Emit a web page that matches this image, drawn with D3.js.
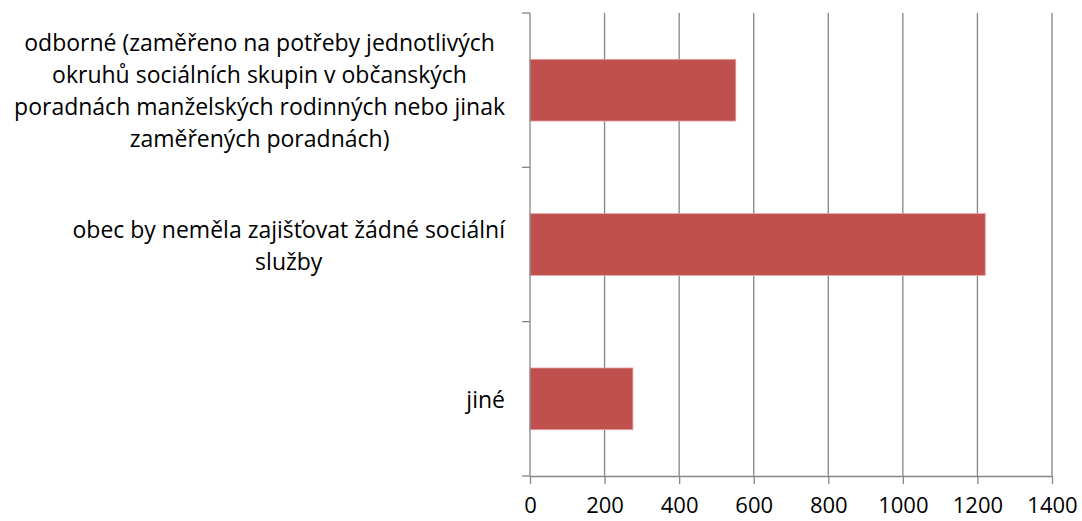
<!DOCTYPE html>
<html lang="cs">
<head>
    <meta charset="UTF-8">
    <title>Sociální služby</title>

    <!-- Load d3.js -->
    <script src="https://d3js.org/d3.v7.min.js"></script>

    <style>
        body { margin: 0; background: #fff; }
        text { font-family: "Open Sans", "Noto Sans", sans-serif; fill: #000; }
    </style>
</head>
<body>

    <div id="chart"></div>

    <script>

        // Data
        var categories = [
            ["odborné (zaměřeno na potřeby jednotlivých", "okruhů sociálních skupin v občanských", "poradnách manželských rodinných nebo jinak", "zaměřených poradnách)"],
            ["obec by neměla zajišťovat žádné sociální", "služby"],
            ["jiné"]
        ];
        var values = [552, 1221, 276];
        var x_ticks = [0, 200, 400, 600, 800, 1000, 1200, 1400];

        var width = 1082,
            height = 521;
        var plot = {left: 530, right: 1052, top: 13, bottom: 476};
        var font_size = 23,
            tick_font_size = 22,
            line_height = 32,
            label_right = 505;

        var svg = d3.select("#chart")
            .append("svg")
                .attr("width", width)
                .attr("height", height);

        // X scale
        var x = d3.scaleLinear()
            .domain([0, 1400])
            .range([plot.left, plot.right]);

        // Y scale (one band per category)
        var idx = categories.map(function(d, i) { return i; });
        var y = d3.scaleBand()
            .domain(idx)
            .range([plot.top, plot.bottom])
            .paddingInner(0.6)
            .paddingOuter(0.3);

        // Vertical gridlines
        svg.append("g")
            .attr("class", "grid")
            .selectAll("line")
            .data(x_ticks.slice(1))
            .enter()
            .append("line")
                .attr("x1", function(d) { return x(d); })
                .attr("x2", function(d) { return x(d); })
                .attr("y1", plot.top)
                .attr("y2", plot.bottom)
                .attr("stroke", "#868686")
                .attr("stroke-width", 1.3);

        // Bars
        svg.selectAll("rect.bar")
            .data(values)
            .enter()
            .append("rect")
                .attr("class", "bar")
                .attr("x", x(0))
                .attr("y", function(d, i) { return y(i); })
                .attr("width", function(d) { return x(d) - x(0); })
                .attr("height", y.bandwidth())
                .attr("fill", "#C0504D")
                .attr("stroke", "#e3a5a3")
                .attr("stroke-width", 0.8);

        // X axis
        var x_axis = svg.append("g")
            .attr("transform", "translate(0," + plot.bottom + ")")
            .call(d3.axisBottom(x)
                .tickValues(x_ticks)
                .tickFormat(d3.format("d"))
                .tickSize(8)
                .tickPadding(13)
                .tickSizeOuter(0));
        x_axis.selectAll("path, line").attr("stroke", "#868686").attr("stroke-width", 1.3);
        x_axis.selectAll("text")
            .style("font-size", tick_font_size + "px")
            .attr("font-family", null);

        // Y axis: a tick on every category boundary
        var step = y.step();
        var boundaries = [0, 1, 2, 3].map(function(i) { return plot.top + i * step; });
        var y_axis = svg.append("g");
        y_axis.append("line")
            .attr("x1", plot.left).attr("x2", plot.left)
            .attr("y1", plot.top).attr("y2", plot.bottom)
            .attr("stroke", "#868686").attr("stroke-width", 1.3);
        y_axis.selectAll("line.tick")
            .data(boundaries)
            .enter()
            .append("line")
                .attr("class", "tick")
                .attr("x1", plot.left - 8).attr("x2", plot.left)
                .attr("y1", function(d) { return d; })
                .attr("y2", function(d) { return d; })
                .attr("stroke", "#868686").attr("stroke-width", 1.3);

        // Category labels: lines centred on each other, block right aligned
        var labels = svg.append("g");
        categories.forEach(function(lines, i) {
            var g = labels.append("g");
            var texts = g.selectAll("text")
                .data(lines)
                .enter()
                .append("text")
                    .style("font-size", font_size + "px")
                    .attr("text-anchor", "middle")
                    .text(function(d) { return d; });

            var max_w = 0;
            texts.each(function() {
                var w = this.getComputedTextLength();
                if (w > max_w) { max_w = w; }
            });

            var cx = label_right - max_w / 2;
            var cy = y(i) + y.bandwidth() / 2;
            texts
                .attr("x", cx)
                .attr("y", function(d, j) { return cy + (j - (lines.length - 1) / 2) * line_height; })
                .attr("dy", "0.4em");
        });

    </script>

</body>
</html>
